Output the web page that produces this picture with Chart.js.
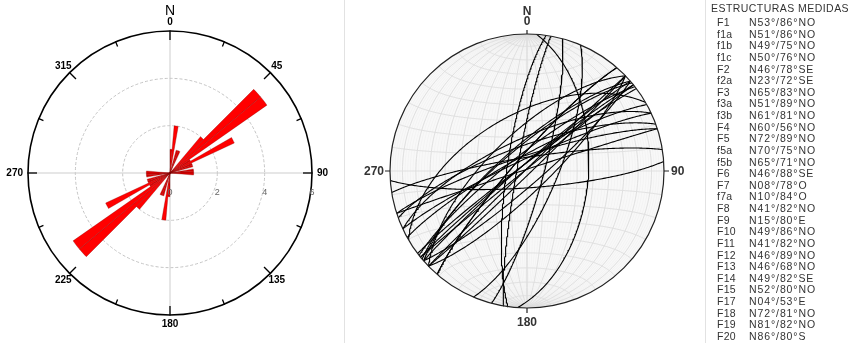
<!DOCTYPE html>
<html>
<head>
<meta charset="utf-8">
<script src="https://cdn.jsdelivr.net/npm/chart.js@4.4.1/dist/chart.umd.min.js"></script>
<style>
  body { margin: 0; background: #fff; width: 850px; height: 343px; position: relative; overflow: hidden;
         font-family: "Liberation Sans", Arial, sans-serif; }
  #roseChart { position: absolute; left: 0; top: 0; }
  #stereoChart { position: absolute; left: 345px; top: 0; }
  .sep { position: absolute; top: 0; width: 1px; height: 343px; background: #e2e2e2; }
  #legend { position: absolute; left: 711px; top: 2px; color: #333; font-size: 10.5px; }
  #legend .title { font-size: 10.5px; line-height: 13px; margin-bottom: 2px; letter-spacing: 0.45px; }
  #legend .row { line-height: 11.63px; height: 11.63px; white-space: nowrap; letter-spacing: 0.9px; }
  #legend .id { display: inline-block; width: 32px; padding-left: 6px; letter-spacing: 0.3px; }
</style>
</head>
<body>
<canvas id="roseChart" width="345" height="343"></canvas>
<div class="sep" style="left:344px"></div>
<canvas id="stereoChart" width="360" height="343"></canvas>
<div class="sep" style="left:705px"></div>
<div id="legend"></div>

<script>
// rose diagram, 5 degree bins from 0 to 180 (same counts drawn for the opposite direction)
const roseBinStart = [0, 5, 10, 15, 20, 25, 30, 35, 40, 45, 50, 55, 60, 65, 70, 75, 80, 85,
                      90, 95, 100, 105, 110, 115, 120, 125, 130, 135, 140, 145, 150, 155, 160, 165, 170, 175];
const roseCounts = [1, 2, 0, 1, 1, 0, 0, 0, 2, 5, 5, 1, 3, 1, 1, 0, 1, 1,
                    1, 0, 0, 0, 0, 0, 0, 0, 0, 0, 0, 0, 0, 0, 0, 0, 0, 0];
const roseTicks = [0, 2, 4, 6];
const compassAngles = [0, 45, 90, 135, 180, 225, 270, 315];

// measured structures (strike / dip / dip direction)
const structIds = ['F1', 'f1a', 'f1b', 'f1c', 'F2', 'f2a', 'F3', 'f3a', 'f3b', 'F4', 'F5', 'f5a', 'f5b', 'F6',
                   'F7', 'f7a', 'F8', 'F9', 'F10', 'F11', 'F12', 'F13', 'F14', 'F15', 'F17', 'F18', 'F19', 'F20'];
const structStrike = [53, 51, 49, 50, 46, 23, 65, 51, 61, 60, 72, 70, 65, 46,
                      8, 10, 41, 15, 49, 41, 46, 46, 49, 52, 4, 72, 81, 86];
const structDip = [86, 86, 75, 76, 78, 72, 83, 89, 81, 56, 89, 75, 71, 88,
                   78, 84, 82, 80, 86, 82, 89, 68, 82, 80, 53, 81, 82, 80];
const structQuad = ['NO', 'NO', 'NO', 'NO', 'SE', 'SE', 'NO', 'NO', 'NO', 'NO', 'NO', 'NO', 'NO', 'SE',
                    'O', 'O', 'NO', 'E', 'NO', 'NO', 'NO', 'NO', 'SE', 'NO', 'E', 'NO', 'NO', 'S'];

const quadAzimuth = { N: 0, NE: 45, E: 90, SE: 135, S: 180, SO: 225, O: 270, NO: 315 };
const rad = d => d * Math.PI / 180;

// legend table
const legend = document.getElementById('legend');
let html = '<div class="title">ESTRUCTURAS MEDIDAS</div>';
structIds.forEach((id, i) => {
    const s = String(structStrike[i]).padStart(2, '0');
    html += `<div class="row"><span class="id">${id}</span>N${s}°/${structDip[i]}°${structQuad[i]}</div>`;
});
legend.innerHTML = html;

// ---------- rose diagram ----------
const roseLabels = [];
const roseData = [];
[0, 180].forEach(off => {
    roseBinStart.forEach((b, i) => {
        roseLabels.push((b + off) + '-' + (b + off + 5));
        roseData.push(roseCounts[i]);
    });
});

const roseDecor = {
    id: 'roseDecor',
    afterDraw(chart) {
        const ctx = chart.ctx;
        const r = chart.scales.r;
        const cx = r.xCenter, cy = r.yCenter, R = r.drawingArea;
        ctx.save();
        // outer circle
        ctx.strokeStyle = '#000';
        ctx.lineWidth = 1.6;
        ctx.beginPath();
        ctx.arc(cx, cy, R, 0, Math.PI * 2);
        ctx.stroke();
        // ticks every 22.5 degrees
        ctx.lineWidth = 1.3;
        for (let a = 0; a < 360; a += 22.5) {
            const len = a % 45 === 0 ? 9 : 5;
            const s = Math.sin(rad(a)), c = Math.cos(rad(a));
            ctx.beginPath();
            ctx.moveTo(cx + s * (R + 0.5), cy - c * (R + 0.5));
            ctx.lineTo(cx + s * (R - len), cy - c * (R - len));
            ctx.stroke();
        }
        // compass labels
        ctx.fillStyle = '#000';
        ctx.font = 'bold 10px "Liberation Sans", Arial, sans-serif';
        ctx.textAlign = 'center';
        ctx.textBaseline = 'middle';
        compassAngles.forEach(a => {
            const s = Math.sin(rad(a)), c = Math.cos(rad(a));
            const w = ctx.measureText(String(a)).width;
            const d = R + 9 + (Math.abs(s) > 0.9 ? w / 2 - 4 : 0);
            ctx.fillText(String(a), cx + s * d, cy - c * d + 0.5);
        });
        ctx.font = '14px "Liberation Sans", Arial, sans-serif';
        ctx.fillText('N', cx, cy - R - 20);
        // radial value labels
        ctx.fillStyle = '#666';
        ctx.font = '9px "Liberation Sans", Arial, sans-serif';
        roseTicks.forEach(v => {
            ctx.fillText(String(v), cx + r.getDistanceFromCenterForValue(v), cy + 20);
        });
        ctx.restore();
    }
};

new Chart(document.getElementById('roseChart'), {
    type: 'polarArea',
    data: {
        labels: roseLabels,
        datasets: [{
            data: roseData,
            backgroundColor: c => (c.raw === 1 ? '#e30000' : '#ff0000'),
            borderColor: 'rgba(120,0,0,0.5)',
            borderWidth: 0.6
        }]
    },
    options: {
        responsive: false,
        animation: false,
        layout: { padding: { left: 28, right: 33, top: 31, bottom: 28 } },
        plugins: { legend: { display: false }, tooltip: { enabled: false } },
        scales: {
            r: {
                min: 0,
                max: 6,
                startAngle: 0,
                ticks: { stepSize: 2, display: false },
                pointLabels: { display: false },
                grid: {
                    circular: true,
                    color: c => (c.tick.value === 6 ? 'rgba(0,0,0,0)' : '#c4c4c4'),
                    lineWidth: 1
                },
                border: { dash: c => (c.tick && c.tick.value === 6 ? [] : [3, 2]) },
                angleLines: {
                    display: true,
                    color: '#cdcdcd',
                    lineWidth: c => (c.index % 18 === 0 ? 1 : 0)
                }
            }
        }
    },
    plugins: [roseDecor]
});

// ---------- stereonet (equal area, lower hemisphere) ----------
function lineToXY(n, e, d) {
    if (d < 0) { n = -n; e = -e; d = -d; }
    const len = Math.sqrt(n * n + e * e + d * d);
    const plunge = Math.asin(Math.min(1, d / len));
    const trend = Math.atan2(e, n);
    const rr = Math.SQRT2 * Math.sin((Math.PI / 2 - plunge) / 2);
    return { x: rr * Math.sin(trend), y: rr * Math.cos(trend) };
}

function planePoints(dipDir, dip, step) {
    const a = rad(dipDir - 90), dd = rad(dipDir), p = rad(dip);
    const pts = [];
    for (let t = 0; t <= 180; t += step) {
        const ct = Math.cos(rad(t)), st = Math.sin(rad(t));
        pts.push(lineToXY(ct * Math.cos(a) + st * Math.cos(p) * Math.cos(dd),
                          ct * Math.sin(a) + st * Math.cos(p) * Math.sin(dd),
                          st * Math.sin(p)));
    }
    return pts;
}

function dipDirection(strike, quad) {
    const q = rad(quadAzimuth[quad]);
    const c1 = (strike + 90) % 360;
    const dot = Math.cos(rad(c1) - q);
    return dot >= 0 ? c1 : (strike + 270) % 360;
}

const circleSets = structIds.map((id, i) => ({
    label: id,
    data: planePoints(dipDirection(structStrike[i], structQuad[i]), structDip[i], 1),
    showLine: true,
    borderColor: '#000',
    borderWidth: 1.1,
    pointRadius: 0
}));

const stereoNet = {
    id: 'stereoNet',
    beforeDatasetsDraw(chart) {
        const ctx = chart.ctx;
        const xs = chart.scales.x, ys = chart.scales.y;
        const cx = xs.getPixelForValue(0), cy = ys.getPixelForValue(0);
        const R = xs.getPixelForValue(1) - cx;
        const path = pts => {
            ctx.beginPath();
            pts.forEach((p, k) => {
                const px = xs.getPixelForValue(p.x), py = ys.getPixelForValue(p.y);
                k ? ctx.lineTo(px, py) : ctx.moveTo(px, py);
            });
            ctx.stroke();
        };
        ctx.save();
        ctx.fillStyle = '#f8f8f8';
        ctx.beginPath();
        ctx.arc(cx, cy, R, 0, Math.PI * 2);
        ctx.fill();
        ctx.clip();
        // fine meridians (shade near the poles)
        ctx.strokeStyle = 'rgba(0,0,0,0.03)';
        ctx.lineWidth = 0.8;
        for (let d = 2; d <= 90; d += 2) {
            path(planePoints(90, d, 2));
            path(planePoints(270, d, 2));
        }
        // 10 degree net
        ctx.strokeStyle = '#dedede';
        ctx.lineWidth = 0.9;
        for (let d = 10; d <= 90; d += 10) {
            path(planePoints(90, d, 2));
            path(planePoints(270, d, 2));
        }
        for (let b = 10; b < 180; b += 10) {
            const pts = [];
            for (let g = 0; g <= 180; g += 2) {
                pts.push(lineToXY(Math.cos(rad(b)), Math.sin(rad(b)) * Math.cos(rad(g)),
                                  Math.sin(rad(b)) * Math.sin(rad(g))));
            }
            path(pts);
        }
        ctx.restore();
    },
    afterDatasetsDraw(chart) {
        const ctx = chart.ctx;
        const xs = chart.scales.x, ys = chart.scales.y;
        const cx = xs.getPixelForValue(0), cy = ys.getPixelForValue(0);
        const R = xs.getPixelForValue(1) - cx;
        ctx.save();
        ctx.strokeStyle = '#222';
        ctx.lineWidth = 1.2;
        ctx.beginPath();
        ctx.arc(cx, cy, R, 0, Math.PI * 2);
        ctx.stroke();
        ctx.beginPath();
        ctx.moveTo(cx, cy - R); ctx.lineTo(cx, cy - R - 4);
        ctx.moveTo(cx, cy + R); ctx.lineTo(cx, cy + R + 5);
        ctx.moveTo(cx - R, cy); ctx.lineTo(cx - R - 5, cy);
        ctx.moveTo(cx + R, cy); ctx.lineTo(cx + R + 5, cy);
        ctx.stroke();
        ctx.fillStyle = '#333';
        ctx.font = 'bold 12px "Liberation Sans", Arial, sans-serif';
        ctx.textBaseline = 'middle';
        ctx.textAlign = 'center';
        ctx.fillText('N', cx, cy - R - 22);
        ctx.fillText('0', cx, cy - R - 12);
        ctx.fillText('180', cx, cy + R + 15);
        ctx.textAlign = 'right';
        ctx.fillText('270', cx - R - 6, cy + 1);
        ctx.textAlign = 'left';
        ctx.fillText('90', cx + R + 7, cy + 1);
        ctx.restore();
    }
};

new Chart(document.getElementById('stereoChart'), {
    type: 'scatter',
    data: { datasets: circleSets },
    options: {
        responsive: false,
        animation: false,
        layout: { padding: { left: 45, right: 41, top: 34, bottom: 35 } },
        plugins: { legend: { display: false }, tooltip: { enabled: false } },
        scales: {
            x: { min: -1, max: 1, display: false },
            y: { min: -1, max: 1, display: false }
        }
    },
    plugins: [stereoNet]
});
</script>
</body>
</html>
